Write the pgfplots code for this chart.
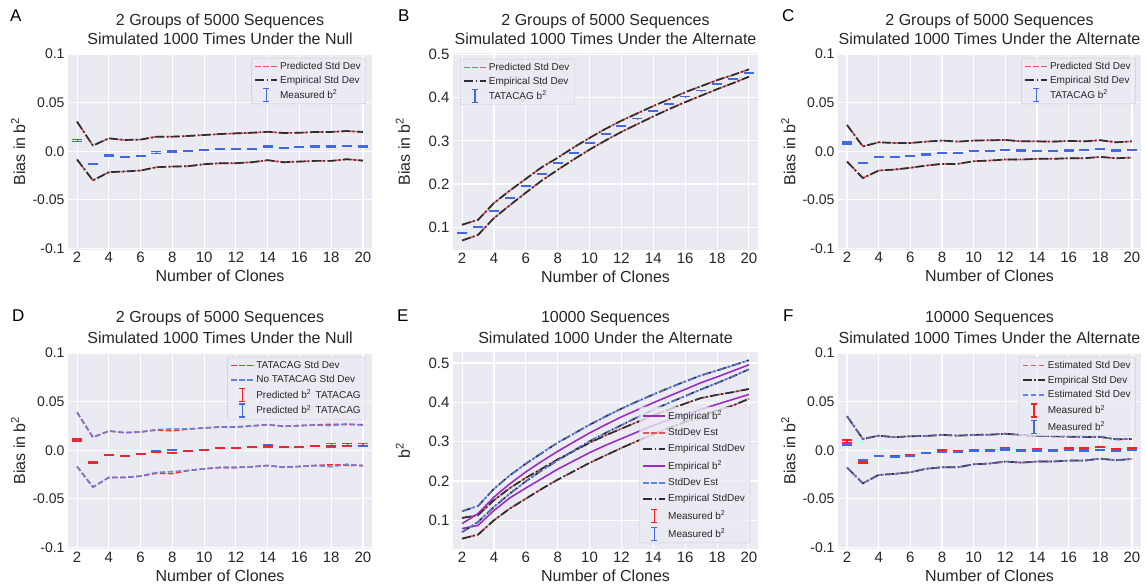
\documentclass[border=0pt]{standalone}
\usepackage{fontspec}
\setmainfont{Liberation Sans}
\usepackage{pgfplots}
\pgfplotsset{compat=1.18}
\usepackage{pgfplotstable}

\definecolor{bgc}{HTML}{EAEAF2}
\definecolor{txt}{HTML}{262626}
\definecolor{predred}{HTML}{E05858}
\definecolor{empblk}{HTML}{2E2E2E}
\definecolor{mblue}{HTML}{4169E1}
\definecolor{dred}{HTML}{FF2B2B}
\definecolor{dblue}{HTML}{5F82EC}
\definecolor{mred}{HTML}{FF1E1E}
\definecolor{purp}{HTML}{9A2DBE}
\definecolor{legc}{HTML}{CCCCCC}

\newcommand{\tfont}{\fontsize{16}{19}\selectfont}

% panel A
\pgfplotstableread{
x up lo m e
2 0.0304 -0.0085 0.0110 0.0012
3 0.0058 -0.0300 -0.0130 0.0005
4 0.0133 -0.0215 -0.0044 0.0004
5 0.0116 -0.0208 -0.0058 0.0004
6 0.0120 -0.0198 -0.0048 0.0004
7 0.0150 -0.0164 -0.0010 0.0010
8 0.0150 -0.0157 -0.0003 0.0004
9 0.0157 -0.0154 0.0000 0.0004
10 0.0167 -0.0133 0.0014 0.0004
11 0.0177 -0.0123 0.0020 0.0004
12 0.0184 -0.0123 0.0024 0.0004
13 0.0190 -0.0113 0.0024 0.0004
14 0.0200 -0.0092 0.0048 0.0004
15 0.0188 -0.0113 0.0034 0.0004
16 0.0190 -0.0106 0.0040 0.0004
17 0.0198 -0.0099 0.0048 0.0004
18 0.0198 -0.0099 0.0048 0.0004
19 0.0208 -0.0082 0.0050 0.0004
20 0.0198 -0.0096 0.0048 0.0004
}\dataA

% panel B
\pgfplotstableread{
x up lo m e
2 0.1056 0.069 0.0862 0.0005
3 0.117 0.082 0.100 0.0005
4 0.156 0.121 0.138 0.0005
5 0.185 0.151 0.1675 0.0008
6 0.212 0.180 0.196 0.0005
7 0.239 0.208 0.224 0.0008
8 0.261 0.233 0.249 0.0008
9 0.285 0.257 0.272 0.0005
10 0.307 0.280 0.295 0.0005
11 0.328 0.301 0.316 0.0005
12 0.347 0.321 0.335 0.0008
13 0.364 0.339 0.352 0.0005
14 0.381 0.357 0.370 0.0005
15 0.397 0.374 0.386 0.0005
16 0.413 0.390 0.403 0.0005
17 0.427 0.405 0.417 0.0005
18 0.441 0.420 0.432 0.0005
19 0.453 0.434 0.444 0.0005
20 0.466 0.449 0.4575 0.0005
}\dataB

% panel C
\pgfplotstableread{
x up lo m e
2 0.0270 -0.0106 0.0085 0.0010
3 0.0050 -0.0276 -0.0120 0.0004
4 0.0092 -0.0198 -0.0060 0.0004
5 0.0085 -0.0188 -0.0058 0.0004
6 0.0085 -0.0170 -0.0048 0.0004
7 0.0099 -0.0147 -0.0034 0.0004
8 0.0110 -0.0130 -0.0017 0.0004
9 0.0099 -0.0130 -0.0017 0.0004
10 0.0110 -0.0102 0.0000 0.0004
11 0.0113 -0.0096 0.0000 0.0004
12 0.0116 -0.0085 0.0010 0.0004
13 0.0102 -0.0085 0.0007 0.0004
14 0.0102 -0.0078 0.0003 0.0004
15 0.0099 -0.0078 0.0000 0.0004
16 0.0106 -0.0072 0.0007 0.0004
17 0.0102 -0.0072 0.0010 0.0004
18 0.0113 -0.0058 0.0020 0.0004
19 0.0092 -0.0072 0.0007 0.0004
20 0.0102 -0.0065 0.0014 0.0004
}\dataC

% panel D
\pgfplotstableread{
x ru rl bu bl rm bm re be
2 0.0390 -0.0167 0.0390 -0.0167 0.0106 0.0106 0.0010 0.0010
3 0.0133 -0.0379 0.0133 -0.0379 -0.0126 -0.0126 0.0006 0.0008
4 0.0198 -0.0280 0.0198 -0.0280 -0.0048 -0.0048 0.0004 0.0004
5 0.0180 -0.0280 0.0182 -0.0278 -0.0058 -0.0056 0.0004 0.0004
6 0.0188 -0.0266 0.0188 -0.0266 -0.0040 -0.0040 0.0004 0.0004
7 0.0208 -0.0236 0.0212 -0.0228 -0.0014 -0.0012 0.0004 0.0004
8 0.0200 -0.0239 0.0220 -0.0218 -0.0024 0.0000 0.0004 0.0004
9 0.0218 -0.0208 0.0218 -0.0208 -0.0007 -0.0007 0.0004 0.0004
10 0.0229 -0.0191 0.0229 -0.0191 0.0003 0.0003 0.0004 0.0004
11 0.0239 -0.0177 0.0239 -0.0177 0.0020 0.0020 0.0004 0.0004
12 0.0239 -0.0177 0.0239 -0.0177 0.0020 0.0020 0.0004 0.0004
13 0.0250 -0.0170 0.0250 -0.0170 0.0034 0.0034 0.0004 0.0004
14 0.0263 -0.0157 0.0263 -0.0157 0.0044 0.0044 0.0004 0.0010
15 0.0246 -0.0174 0.0246 -0.0174 0.0030 0.0030 0.0004 0.0004
16 0.0253 -0.0167 0.0253 -0.0167 0.0034 0.0034 0.0004 0.0004
17 0.0260 -0.0157 0.0260 -0.0157 0.0040 0.0040 0.0004 0.0004
18 0.0266 -0.0150 0.0253 -0.0170 0.0055 0.0038 0.0012 0.0004
19 0.0263 -0.0154 0.0273 -0.0143 0.0055 0.0055 0.0012 0.0012
20 0.0263 -0.0157 0.0256 -0.0160 0.0060 0.0044 0.0010 0.0004
}\dataD

% panel E
\pgfplotstableread{
x bu bp bl bm ru rp rl rm
2 0.123 0.0915 0.070 0.0958 0.106 0.079 0.0534 0.077
3 0.1364 0.117 0.0958 0.118 0.113 0.087 0.0636 0.087
4 0.180 0.159 0.134 0.158 0.151 0.125 0.100 0.121
5 0.2144 0.193 0.168 0.189 0.182 0.157 0.130 0.148
6 0.244 0.223 0.199 0.222 0.208 0.182 0.155 0.174
7 0.271 0.250 0.227 0.252 0.231 0.206 0.180 0.200
8 0.2975 0.2754 0.2525 0.277 0.255 0.230 0.2034 0.223
9 0.320 0.299 0.277 0.301 0.276 0.251 0.2246 0.246
10 0.343 0.322 0.301 0.325 0.297 0.272 0.246 0.268
11 0.364 0.343 0.322 0.346 0.316 0.2907 0.265 0.287
12 0.384 0.363 0.342 0.366 0.333 0.3076 0.284 0.303
13 0.4025 0.381 0.362 0.384 0.350 0.3246 0.3017 0.321
14 0.420 0.399 0.381 0.402 0.367 0.341 0.319 0.338
15 0.437 0.416 0.399 0.419 0.382 0.356 0.335 0.354
16 0.453 0.433 0.416 0.435 0.397 0.3695 0.350 0.368
17 0.4686 0.450 0.433 0.452 0.411 0.382 0.3644 0.381
18 0.481 0.4645 0.449 0.467 0.419 0.395 0.379 0.394
19 0.494 0.480 0.466 0.482 0.426 0.4076 0.392 0.406
20 0.507 0.4955 0.484 0.497 0.434 0.420 0.409 0.420
}\dataE

% panel F
\pgfplotstableread{
x u l rm bm re be
2 0.0350 -0.0178 0.0089 0.0062 0.0015 0.0010
3 0.0116 -0.0340 -0.0123 -0.0100 0.0008 0.0008
4 0.0150 -0.0253 -0.0055 -0.0060 0.0004 0.0004
5 0.0134 -0.0243 -0.0055 -0.0068 0.0004 0.0004
6 0.0144 -0.0226 -0.0048 -0.0058 0.0004 0.0004
7 0.0147 -0.0190 -0.0030 -0.0027 0.0004 0.0004
8 0.0158 -0.0175 -0.0007 -0.0020 0.0008 0.0004
9 0.0150 -0.0175 -0.0007 -0.0014 0.0004 0.0004
10 0.0158 -0.0144 0.0003 -0.0003 0.0004 0.0004
11 0.0160 -0.0137 0.0003 -0.0007 0.0004 0.0004
12 0.0170 -0.0116 0.0017 0.0007 0.0008 0.0008
13 0.0158 -0.0127 0.0003 -0.0007 0.0004 0.0004
14 0.0150 -0.0116 0.0010 -0.0003 0.0004 0.0004
15 0.0144 -0.0116 0.0003 -0.0003 0.0004 0.0004
16 0.0140 -0.0106 0.0020 0.0000 0.0004 0.0004
17 0.0137 -0.0106 0.0020 -0.0003 0.0004 0.0004
18 0.0137 -0.0086 0.0034 0.0000 0.0004 0.0004
19 0.0113 -0.0103 0.0014 -0.0007 0.0004 0.0004
20 0.0116 -0.0089 0.0020 0.0000 0.0004 0.0004
}\dataF

\tikzset{
  reddash/.style={color=predred, line width=1.6pt, dash pattern=on 5.5pt off 2.5pt},
  brightred/.style={color=dred, line width=1.6pt, dash pattern=on 5.5pt off 2.5pt},
  bluedash/.style={color=dblue, line width=1.6pt, dash pattern=on 5.5pt off 2.5pt},
  blackdd/.style={color=empblk, line width=1.7pt, dash pattern=on 9pt off 2.5pt on 1.5pt off 2.5pt},
  purpline/.style={color=purp, line width=1.6pt, solid},
}

\pgfplotsset{
  panel/.style={
    scale only axis, height=197pt,
    axis background/.style={fill=bgc},
    axis line style={draw=none},
    xmajorgrids, ymajorgrids,
    grid style={white, line width=1.1pt},
    major tick length=0pt,
    xmin=1.43, xmax=20.57,
    xtick={2,4,...,20},
    xticklabels={2,4,6,8,10,12,14,16,18,20},
    xticklabel style={font=\fontsize{15}{18}\selectfont, text=txt, anchor=base, yshift=-13pt},
    yticklabel style={font=\fontsize{14}{17}\selectfont, text=txt},
    xlabel={Number of Clones},
    xlabel style={at={(axis description cs:0.5,0)}, anchor=base, yshift=-32pt, font=\tfont, text=txt},
    ylabel style={at={(axis description cs:-0.164,0.5)}, anchor=center, font=\tfont, text=txt},
    legend style={font=\fontsize{10}{12}\selectfont, text=txt, fill=bgc, fill opacity=0.8,
      text opacity=1, draw=legc, rounded corners=2pt, inner xsep=3pt, inner ysep=2pt, row sep=1pt},
    legend cell align=left,
  },
  biasy/.style={ymin=-0.1015, ymax=0.101, ytick={-0.1,-0.05,0,0.05,0.1},
    yticklabels={-0.1,-0.05,0.0,0.05,0.1}, ylabel={Bias in b\textsuperscript{2}}},
  meas/.style={forget plot, draw=none, mark=none,
    error bars/y dir=both, error bars/y explicit, error bars/error mark=|,
    error bars/error bar style={draw=#1, line width=1.1pt, solid},
    error bars/error mark options={draw=#1, mark size=5pt, line width=1.4pt, solid}},
  lgred/.style={legend image code/.code={\draw[draw=predred, line width=1.7pt, dash pattern=on 5.5pt off 2.5pt] (0pt,0pt) -- (22pt,0pt);}},
  lgbred/.style={legend image code/.code={\draw[draw=dred, line width=1.7pt, dash pattern=on 5.5pt off 2.5pt] (0pt,0pt) -- (22pt,0pt);}},
  lgblue/.style={legend image code/.code={\draw[draw=dblue, line width=1.7pt, dash pattern=on 5.5pt off 2.5pt] (0pt,0pt) -- (22pt,0pt);}},
  lgblack/.style={legend image code/.code={\draw[draw=empblk, line width=1.7pt, dash pattern=on 9pt off 2.5pt on 1.5pt off 2.5pt] (0pt,0pt) -- (22pt,0pt);}},
  lgpurp/.style={legend image code/.code={\draw[draw=purp, line width=1.7pt] (0pt,0pt) -- (22pt,0pt);}},
  ebimg/.style={legend image code/.code={
    \draw[draw=#1, line width=1.2pt] (11pt,-6.5pt) -- (11pt,6.5pt);
    \draw[draw=#1, line width=1.2pt] (8pt,-6.5pt) -- (14pt,-6.5pt) (8pt,6.5pt) -- (14pt,6.5pt);}},
}

\begin{document}
\begin{tikzpicture}
\useasboundingbox (0,0) rectangle (1146pt,-585pt);

% ---- A
\begin{axis}[panel, biasy, width=304pt, at={(68pt,-53pt)}, anchor=north west,
  legend style={at={(0.98,0.975)}, anchor=north east}]
\addplot[reddash, forget plot] table[x=x,y=up]{\dataA};
\addplot[reddash, forget plot] table[x=x,y=lo]{\dataA};
\addplot[blackdd, forget plot] table[x=x,y=up]{\dataA};
\addplot[blackdd, forget plot] table[x=x,y=lo]{\dataA};
\addplot[meas=mblue] table[x=x,y=m,y error=e]{\dataA};
\addlegendimage{lgred}\addlegendentry{Predicted Std Dev}
\addlegendimage{lgblack}\addlegendentry{Empirical Std Dev}
\addlegendimage{ebimg=mblue}\addlegendentry{Measured b\textsuperscript{2}}
\end{axis}

% ---- B
\begin{axis}[panel, width=305pt, at={(453pt,-53pt)}, anchor=north west,
  ymin=0.047, ymax=0.504, ytick={0.1,0.2,0.3,0.4,0.5}, yticklabels={0.1,0.2,0.3,0.4,0.5},
  yticklabel style={font=\fontsize{15}{18}\selectfont},
  ylabel={Bias in b\textsuperscript{2}},
  legend style={at={(0.023,0.97)}, anchor=north west}]
\addplot[reddash, forget plot] table[x=x,y=up]{\dataB};
\addplot[reddash, forget plot] table[x=x,y=lo]{\dataB};
\addplot[blackdd, forget plot] table[x=x,y=up]{\dataB};
\addplot[blackdd, forget plot] table[x=x,y=lo]{\dataB};
\addplot[meas=mblue] table[x=x,y=m,y error=e]{\dataB};
\addlegendimage{lgred}\addlegendentry{Predicted Std Dev}
\addlegendimage{lgblack}\addlegendentry{Empirical Std Dev}
\addlegendimage{ebimg=mblue}\addlegendentry{TATACAG b\textsuperscript{2}}
\end{axis}

% ---- C
\begin{axis}[panel, biasy, width=303pt, at={(838pt,-53pt)}, anchor=north west,
  legend style={at={(0.983,0.975)}, anchor=north east}]
\addplot[reddash, forget plot] table[x=x,y=up]{\dataC};
\addplot[reddash, forget plot] table[x=x,y=lo]{\dataC};
\addplot[blackdd, forget plot] table[x=x,y=up]{\dataC};
\addplot[blackdd, forget plot] table[x=x,y=lo]{\dataC};
\addplot[meas=mblue] table[x=x,y=m,y error=e]{\dataC};
\addlegendimage{lgred}\addlegendentry{Predicted Std Dev}
\addlegendimage{lgblack}\addlegendentry{Empirical Std Dev}
\addlegendimage{ebimg=mblue}\addlegendentry{TATACAG b\textsuperscript{2}}
\end{axis}

% ---- D
\begin{axis}[panel, biasy, width=304pt, at={(68pt,-352pt)}, anchor=north west,
  legend style={at={(0.98,0.975)}, anchor=north east, row sep=1.5pt}]
\addplot[brightred, forget plot] table[x=x,y=ru]{\dataD};
\addplot[brightred, forget plot] table[x=x,y=rl]{\dataD};
\addplot[bluedash, forget plot, opacity=0.85] table[x=x,y=bu]{\dataD};
\addplot[bluedash, forget plot, opacity=0.85] table[x=x,y=bl]{\dataD};
\addplot[meas=mblue] table[x=x,y=bm,y error=be]{\dataD};
\addplot[meas=mred, opacity=0.85] table[x=x,y=rm,y error=re]{\dataD};
\addlegendimage{lgbred}\addlegendentry{TATACAG Std Dev}
\addlegendimage{lgblue}\addlegendentry{No TATACAG Std Dev}
\addlegendimage{ebimg=mred}\addlegendentry{Predicted b\textsuperscript{2}\, TATACAG}
\addlegendimage{ebimg=mblue}\addlegendentry{Predicted b\textsuperscript{2}\, TATACAG}
\end{axis}

% ---- E
\begin{axis}[panel, width=305pt, at={(453pt,-352pt)}, anchor=north west,
  ymin=0.027, ymax=0.528, ytick={0.1,0.2,0.3,0.4,0.5}, yticklabels={0.1,0.2,0.3,0.4,0.5},
  yticklabel style={font=\fontsize{15}{18}\selectfont},
  ylabel={b\textsuperscript{2}},
  legend style={at={(0.974,0.03)}, anchor=south east, row sep=3.5pt}]
\addplot[purpline, forget plot] table[x=x,y=rp]{\dataE};
\addplot[reddash, forget plot] table[x=x,y=ru]{\dataE};
\addplot[reddash, forget plot] table[x=x,y=rl]{\dataE};
\addplot[blackdd, forget plot] table[x=x,y=ru]{\dataE};
\addplot[blackdd, forget plot] table[x=x,y=rl]{\dataE};
\addplot[purpline, forget plot] table[x=x,y=bp]{\dataE};
\addplot[blackdd, forget plot] table[x=x,y=bu]{\dataE};
\addplot[blackdd, forget plot] table[x=x,y=bl]{\dataE};
\addplot[bluedash, forget plot, opacity=0.8] table[x=x,y=bu]{\dataE};
\addplot[bluedash, forget plot, opacity=0.8] table[x=x,y=bl]{\dataE};
\addplot[meas=mred] table[x=x,y=rm,y expr=0.0008]{\dataE};
\addplot[meas=mblue] table[x=x,y=bm,y expr=0.0008]{\dataE};
\addlegendimage{lgpurp}\addlegendentry{Empirical b\textsuperscript{2}}
\addlegendimage{lgred}\addlegendentry{StdDev Est}
\addlegendimage{lgblack}\addlegendentry{Empirical StdDev}
\addlegendimage{lgpurp}\addlegendentry{Empirical b\textsuperscript{2}}
\addlegendimage{lgblue}\addlegendentry{StdDev Est}
\addlegendimage{lgblack}\addlegendentry{Empirical StdDev}
\addlegendimage{ebimg=mred}\addlegendentry{Measured b\textsuperscript{2}}
\addlegendimage{ebimg=mblue}\addlegendentry{Measured b\textsuperscript{2}}
\end{axis}

% ---- F
\begin{axis}[panel, biasy, width=303pt, at={(838pt,-352pt)}, anchor=north west,
  legend style={at={(0.983,0.975)}, anchor=north east, row sep=2pt}]
\addplot[reddash, forget plot] table[x=x,y=u]{\dataF};
\addplot[reddash, forget plot] table[x=x,y=l]{\dataF};
\addplot[blackdd, forget plot] table[x=x,y=u]{\dataF};
\addplot[blackdd, forget plot] table[x=x,y=l]{\dataF};
\addplot[bluedash, forget plot, opacity=0.7] table[x=x,y=u]{\dataF};
\addplot[bluedash, forget plot, opacity=0.7] table[x=x,y=l]{\dataF};
\addplot[meas=mred] table[x=x,y=rm,y error=re]{\dataF};
\addplot[meas=mblue] table[x=x,y=bm,y error=be]{\dataF};
\addlegendimage{lgred}\addlegendentry{Estimated Std Dev}
\addlegendimage{lgblack}\addlegendentry{Empirical Std Dev}
\addlegendimage{lgblue}\addlegendentry{Estimated Std Dev}
\addlegendimage{ebimg=mred}\addlegendentry{Measured b\textsuperscript{2}}
\addlegendimage{ebimg=mblue}\addlegendentry{Measured b\textsuperscript{2}}
\end{axis}

% ---- panel letters and titles
\begin{scope}[every node/.style={font=\fontsize{17}{20}\selectfont, text=black, anchor=base west, inner sep=0pt}]
\node at (10pt,-22pt) {A};
\node at (398pt,-22pt) {B};
\node at (782pt,-22pt) {C};
\node at (12pt,-322pt) {D};
\node at (397pt,-322pt) {E};
\node at (783pt,-322pt) {F};
\end{scope}
\begin{scope}[every node/.style={font=\tfont, text=txt, anchor=base, inner sep=0pt}]
\node at (220pt,-26pt) {2 Groups of 5000 Sequences};
\node at (220pt,-45pt) {Simulated 1000 Times Under the Null};
\node at (605.5pt,-26pt) {2 Groups of 5000 Sequences};
\node at (605.5pt,-45pt) {Simulated 1000 Times Under the Alternate};
\node at (989.5pt,-26pt) {2 Groups of 5000 Sequences};
\node at (989.5pt,-45pt) {Simulated 1000 Times Under the Alternate};
\node at (220pt,-323pt) {2 Groups of 5000 Sequences};
\node at (220pt,-343pt) {Simulated 1000 Times Under the Null};
\node at (605.5pt,-323pt) {10000 Sequences};
\node at (605.5pt,-343pt) {Simulated 1000 Under the Alternate};
\node at (989.5pt,-323pt) {10000 Sequences};
\node at (989.5pt,-343pt) {Simulated 1000 Times Under the Alternate};
\end{scope}
\end{tikzpicture}
\end{document}
